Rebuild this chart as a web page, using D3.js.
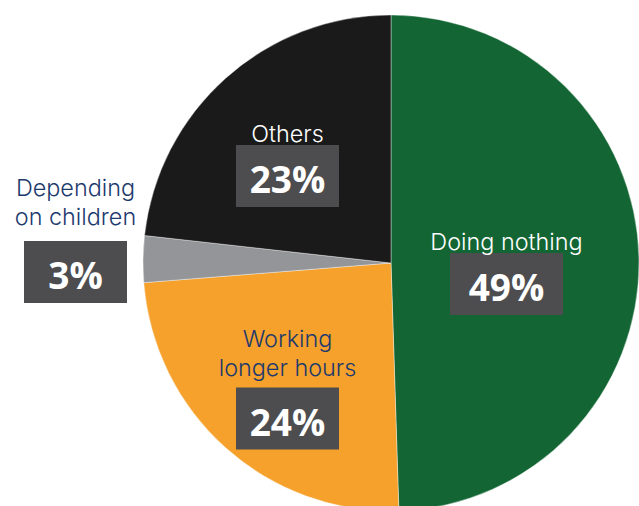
<!DOCTYPE html>
<html>
<head>
<meta charset="utf-8">
<script src="https://cdn.jsdelivr.net/npm/d3@7"></script>
<style>
  html, body { margin: 0; padding: 0; background: #fff; }
  svg { display: block; }
</style>
</head>
<body>
<svg id="chart" width="639" height="506"></svg>
<script>
// Share of respondents by answer
const categories = ["Doing nothing", "Working longer hours", "Depending on children", "Others"];
const values = [49, 24, 3, 23];
const valueLabels = ["49%", "24%", "3%", "23%"];

// Label text split across lines
const labelLines = [["Doing nothing"], ["Working", "longer hours"], ["Depending", "on children"], ["Others"]];

const colors = ["#136634", "#f5a12b", "#939598", "#1a1a1a"];
const textColors = ["#ffffff", "#1d3a6e", "#1d3a6e", "#ffffff"];
// Box centre offsets from pie centre, box widths, and gap from box top to last label baseline
const boxOffsets = [[115.5, 21], [-103.5, 155.5], [-315.5, 9], [-103.5, -87]];
const boxWidths = [113, 103, 103, 103];
const labelGaps = [3, 12, 16, 3];

const svg = d3.select("#chart");
const cx = 391, cy = 263, radius = 248;

const pie = d3.pie().sort(null).value(d => d)(values);
const arc = d3.arc().innerRadius(0).outerRadius(radius);

const g = svg.append("g").attr("transform", `translate(${cx},${cy})`);

g.selectAll("path.slice")
  .data(pie)
  .join("path")
  .attr("class", "slice")
  .attr("d", arc)
  .attr("fill", (d, i) => colors[i])
  .attr("stroke", "rgba(255,255,255,0.55)")
  .attr("stroke-width", 0.7);

const labelFont = "Inter, 'Open Sans', sans-serif";
const numFont = "'Open Sans', 'Noto Sans', sans-serif";
const boxH = 62;

const labels = g.selectAll("g.label")
  .data(pie)
  .join("g")
  .attr("class", "label")
  .attr("transform", (d, i) => `translate(${boxOffsets[i][0]},${boxOffsets[i][1]})`);

labels.append("rect")
  .attr("x", (d, i) => -boxWidths[i] / 2)
  .attr("y", -boxH / 2)
  .attr("width", (d, i) => boxWidths[i])
  .attr("height", boxH)
  .attr("fill", "#4d4d4f");

labels.append("text")
  .attr("text-anchor", "middle")
  .attr("y", 17)
  .attr("fill", "#ffffff")
  .style("font-family", numFont)
  .style("font-weight", 700)
  .style("font-size", "37px")
  .text((d, i) => valueLabels[i]);

labels.each(function(d, i) {
  const lines = labelLines[i];
  const grp = d3.select(this);
  lines.forEach((ln, j) => {
    grp.append("text")
      .attr("text-anchor", "middle")
      .attr("fill", textColors[i])
      .style("font-family", labelFont)
      .style("font-weight", 300)
      .style("font-size", "23.4px")
      .attr("y", -boxH / 2 - labelGaps[i] - (lines.length - 1 - j) * 28.6)
      .text(ln);
  });
});
</script>
</body>
</html>
